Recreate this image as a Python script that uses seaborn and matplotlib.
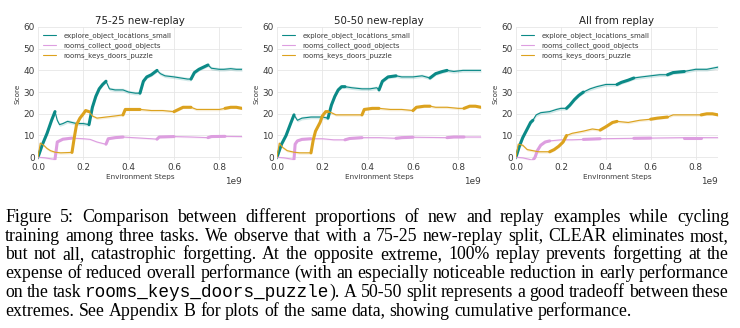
import numpy as np
import pandas as pd
import matplotlib
matplotlib.use("Agg")
import matplotlib.pyplot as plt
import seaborn as sns

# ---------------- data (x in units of 1e9 environment steps) ----------------
titles = ["75-25 new-replay", "50-50 new-replay", "All from replay"]
task_names = ["explore_object_locations_small", "rooms_collect_good_objects", "rooms_keys_doors_puzzle"]

# panel 1 : 75-25 new-replay
p1_explore_x = [0, 0.02, 0.04, 0.06, 0.075, 0.085, 0.095, 0.11, 0.13, 0.15, 0.17, 0.2, 0.225, 0.24, 0.255, 0.27, 0.285, 0.3,
                0.315, 0.34, 0.375, 0.4, 0.43, 0.45, 0.465, 0.48, 0.5, 0.525, 0.54, 0.56, 0.6, 0.63, 0.66, 0.675, 0.69,
                0.71, 0.73, 0.75, 0.765, 0.8, 0.82, 0.85, 0.875, 0.9]
p1_explore_y = [0, 6, 11, 17, 21, 17, 15, 15.5, 16.5, 16, 15.5, 15.5, 15, 23, 28, 31.5, 33.5, 35,
                31.5, 31, 31, 30, 29.5, 29.5, 35, 37, 38, 40, 38.5, 37.5, 37, 36.5, 36, 36, 39,
                40.5, 41.5, 42.5, 41, 40.5, 40.5, 40.8, 40.5, 40.5]
p1_collect_x = [0, 0.03, 0.06, 0.075, 0.085, 0.11, 0.15, 0.2, 0.23, 0.26, 0.29, 0.3, 0.31, 0.34, 0.375, 0.42, 0.5, 0.525,
                0.535, 0.6, 0.675, 0.75, 0.765, 0.825, 0.9]
p1_collect_y = [0, -0.3, -0.8, -1, 7, 8.3, 8.8, 8.5, 8.2, 7, 6.2, 6, 8.5, 9, 9.3, 9, 8.5, 8.3,
                9.3, 9.5, 9.3, 9, 9.5, 9.6, 9.5]
p1_keys_x = [0, 0.01, 0.025, 0.04, 0.055, 0.075, 0.1, 0.15, 0.16, 0.17, 0.185, 0.2, 0.21, 0.225, 0.24, 0.26, 0.3, 0.34,
             0.375, 0.385, 0.41, 0.45, 0.5, 0.55, 0.6, 0.62, 0.64, 0.675, 0.7, 0.75, 0.8, 0.825, 0.85, 0.875, 0.9]
p1_keys_y = [0, 6.5, 5.5, 4, 3, 2.3, 2, 2.2, 9, 15, 18, 20, 21.5, 21, 19, 18, 18.5, 19,
             19.5, 22, 22, 22, 21.5, 21.5, 21, 22, 23, 23, 22, 22, 22, 22.5, 23, 23, 22.5]

# panel 2 : 50-50 new-replay
p2_explore_x = [0, 0.02, 0.04, 0.06, 0.075, 0.09, 0.11, 0.15, 0.2, 0.225, 0.24, 0.255, 0.27, 0.285, 0.3, 0.33, 0.375,
                0.41, 0.44, 0.45, 0.465, 0.49, 0.525, 0.55, 0.6, 0.64, 0.675, 0.7, 0.73, 0.75, 0.78, 0.82, 0.86, 0.9]
p2_explore_y = [0, 6, 10, 15.5, 19.5, 17, 18, 18.5, 18.5, 18, 24, 28, 31, 32.5, 32.5, 32, 31.5,
                31.5, 32, 31, 35, 37, 37.5, 37, 37, 37.5, 36.5, 38.5, 39.5, 40, 39.5, 40, 40, 40]
p2_collect_x = [0, 0.03, 0.06, 0.075, 0.08, 0.09, 0.11, 0.15, 0.2, 0.25, 0.3, 0.32, 0.375, 0.45, 0.525, 0.55, 0.6,
                0.675, 0.75, 0.78, 0.825, 0.9]
p2_collect_y = [0, -0.3, -0.8, -1, 6, 7.5, 8.2, 8.5, 8.5, 8, 8, 8.6, 9, 9, 8.7, 9, 9.2,
                9.1, 9, 9.3, 9.3, 9.3]
p2_keys_x = [0, 0.01, 0.025, 0.045, 0.075, 0.1, 0.15, 0.16, 0.17, 0.19, 0.2, 0.215, 0.225, 0.24, 0.26, 0.3, 0.34,
             0.375, 0.385, 0.42, 0.45, 0.5, 0.55, 0.6, 0.615, 0.65, 0.675, 0.7, 0.75, 0.8, 0.825, 0.85, 0.875, 0.9]
p2_keys_y = [0, 6.5, 4.5, 3, 2.3, 2, 2, 8, 12, 16, 19, 21, 21, 20.5, 19.5, 19.5, 19.5,
             19.5, 22, 22.5, 22.5, 22, 22, 21.5, 23, 23.5, 23.5, 23, 23, 22.5, 22.5, 23.5, 23.5, 23]

# panel 3 : all from replay
p3_explore_x = [0, 0.015, 0.03, 0.05, 0.065, 0.075, 0.09, 0.11, 0.15, 0.18, 0.2, 0.225, 0.24, 0.26, 0.28, 0.3, 0.33,
                0.36, 0.4, 0.43, 0.45, 0.47, 0.5, 0.525, 0.56, 0.6, 0.64, 0.675, 0.7, 0.75, 0.8, 0.85, 0.9]
p3_explore_y = [0, 5, 9, 13, 16, 17, 19.5, 20.5, 21, 22, 22.5, 22.5, 24, 26.5, 28.5, 30, 31.5,
                32.5, 33.5, 33.5, 33.5, 34.5, 35.5, 36.5, 37, 37.5, 38, 38, 39, 39.5, 40.5, 40.5, 41.5]
p3_collect_x = [0, 0.03, 0.06, 0.075, 0.085, 0.095, 0.11, 0.13, 0.15, 0.2, 0.25, 0.3, 0.375, 0.45, 0.525, 0.6,
                0.675, 0.75, 0.825, 0.9]
p3_collect_y = [0, -0.3, -1, -1.5, 0, 3, 5.5, 7, 7.5, 8, 8, 8.2, 8.5, 8.6, 8.7, 8.8,
                8.9, 9, 9, 9]
p3_keys_x = [0, 0.01, 0.03, 0.05, 0.075, 0.1, 0.15, 0.17, 0.19, 0.21, 0.225, 0.25, 0.3, 0.34, 0.375, 0.4, 0.43,
             0.45, 0.5, 0.55, 0.6, 0.63, 0.675, 0.7, 0.75, 0.8, 0.825, 0.85, 0.875, 0.9]
p3_keys_y = [0, 6, 5.5, 3.5, 3, 2.5, 2.5, 3.5, 5, 7, 10, 11, 12, 13, 12.5, 14, 16,
             16.5, 16, 17, 17.5, 18, 18.5, 19.5, 19.5, 19.5, 19.5, 20, 20, 19.5]

panels = [
    [(p1_explore_x, p1_explore_y), (p1_collect_x, p1_collect_y), (p1_keys_x, p1_keys_y)],
    [(p2_explore_x, p2_explore_y), (p2_collect_x, p2_collect_y), (p2_keys_x, p2_keys_y)],
    [(p3_explore_x, p3_explore_y), (p3_collect_x, p3_collect_y), (p3_keys_x, p3_keys_y)],
]

# training schedule: each task trained in turn for this many steps (1e9 units)
phase_length = 0.075
n_cycles = 4
band_halfwidth = [0.8, 0.4, 0.6]

x_ticks = [0.0, 0.2, 0.4, 0.6, 0.8]
y_ticks = [0, 10, 20, 30, 40, 50, 60]

caption_lines = [
    ["Figure", "5:", "Comparison", "between", "different", "proportions", "of", "new", "and", "replay", "examples",
     "while", "cycling"],
    ["training", "among", "three", "tasks.", "We", "observe", "that", "with", "a", "75-25", "new-replay", "split,",
     "CLEAR", "eliminates", "most,"],
    ["but", "not", "all,", "catastrophic", "forgetting.", "At", "the", "opposite", "extreme,", "100%", "replay",
     "prevents", "forgetting", "at", "the"],
    ["expense", "of", "reduced", "overall", "performance", "(with", "an", "especially", "noticeable", "reduction",
     "in", "early", "performance"],
    ["on", "the", "task", [("rooms_keys_doors_puzzle", "mono"), (").", "serif")], "A", "50-50", "split",
     "represents", "a", "good", "tradeoff", "between", "these"],
    ["extremes.", "See", "Appendix", "B", "for", "plots", "of", "the", "same", "data,", "showing", "cumulative",
     "performance."],
]

# ---------------- style ----------------
sns.set_theme(style="whitegrid")
plt.rcParams["font.family"] = ["DejaVu Sans"]
colors = ["#0b8a87", "#dd9ee0", "#dca21e"]
txt_col = "#3a3a3a"

W, H = 740, 328
fig = plt.figure(figsize=(W / 100, H / 100), dpi=100)

ax_px = [(38, 242), (277, 481), (516, 718)]
top_px, bot_px = 27, 160

for pi, (title, series) in enumerate(zip(titles, panels)):
    l, r = ax_px[pi]
    ax = fig.add_axes([l / W, 1 - bot_px / H, (r - l) / W, (bot_px - top_px) / H])
    for ti, ((xs, ys), name, col) in enumerate(zip(series, task_names, colors)):
        xs = np.asarray(xs) * 1e9
        ys = np.asarray(ys, dtype=float)
        ax.fill_between(xs, ys - band_halfwidth[ti], ys + band_halfwidth[ti], color=col, alpha=0.18, lw=0)
        sns.lineplot(x=xs, y=ys, color=col, linewidth=0.8, ax=ax, label=name)
        for k in range(n_cycles):
            a = (3 * k + ti) * phase_length * 1e9
            b = (3 * k + ti + 1) * phase_length * 1e9
            m = (xs >= a - 1) & (xs <= b + 1)
            if m.sum() >= 2:
                sns.lineplot(x=xs[m], y=ys[m], color=col, linewidth=2.2, ax=ax, legend=False)
    ax.set_xlim(0, 0.9e9)
    ax.set_ylim(-1.3, 60)
    ax.set_xticks([t * 1e9 for t in x_ticks])
    ax.set_yticks(y_ticks)
    ax.ticklabel_format(axis="x", style="sci", scilimits=(9, 9), useMathText=False)
    ax.tick_params(axis="both", labelsize=6.4, pad=2.5, length=0, colors=txt_col)
    ax.xaxis.get_offset_text().set_fontsize(6.4)
    ax.xaxis.get_offset_text().set_color(txt_col)
    ax.set_title(title, fontsize=7.4, pad=2.5, color="#222222")
    ax.set_xlabel("Environment Steps", fontsize=5.2, labelpad=1.0, color=txt_col)
    ax.set_ylabel("Score", fontsize=5.2, labelpad=2, color=txt_col)
    ax.grid(color="#e6e6e6", linewidth=0.6)
    for s in ax.spines.values():
        s.set_visible(False)
    leg = ax.legend(loc="upper left", fontsize=5.0, frameon=False, handlelength=1.9, handletextpad=1.0,
                    labelspacing=0.45, borderaxespad=0.35, bbox_to_anchor=(0.0, 1.0))
    for h in leg.get_lines():
        h.set_linewidth(0.8)
    for t in leg.get_texts():
        t.set_color(txt_col)

# ---------------- caption (justified) ----------------
fig.canvas.draw()
renderer = fig.canvas.get_renderer()
fams = {"serif": "Liberation Serif", "mono": "Liberation Mono"}


def seg_width(text, fam, size):
    t = fig.text(0, 0, text, fontfamily=fams[fam], fontsize=size)
    w = t.get_window_extent(renderer).width
    t.remove()
    return w


def norm(word):
    return word if isinstance(word, list) else [(word, "serif")]


left_px, right_px = 5, 729
avail = right_px - left_px
size = 12.8
# shrink font if the widest line does not fit with a minimum word gap
for _ in range(3):
    worst = 0
    for line in caption_lines[:-1]:
        tot = sum(seg_width(s, f, size) for wd in line for s, f in norm(wd))
        tot += (len(line) - 1) * 0.16 * size * 100 / 72
        worst = max(worst, tot)
    if worst > avail:
        size *= avail / worst
    else:
        break

baselines = [222.0, 240.7, 259.4, 278.1, 296.8, 315.5]
space_w = seg_width("a a", "serif", size) - seg_width("aa", "serif", size)
for li, (line, bpx) in enumerate(zip(caption_lines, baselines)):
    words = [norm(w) for w in line]
    widths = [[seg_width(s, f, size) for s, f in w] for w in words]
    total = sum(sum(w) for w in widths)
    if li < len(caption_lines) - 1:
        gap = (avail - total) / (len(words) - 1)
    else:
        gap = space_w
    x = left_px
    for w, ws in zip(words, widths):
        for (s, f), sw in zip(w, ws):
            fig.text(x / W, 1 - bpx / H, s, fontfamily=fams[f], fontsize=size, va="baseline", ha="left",
                     color="black")
            x += sw
        x += gap

fig.savefig("out.png", dpi=100)
